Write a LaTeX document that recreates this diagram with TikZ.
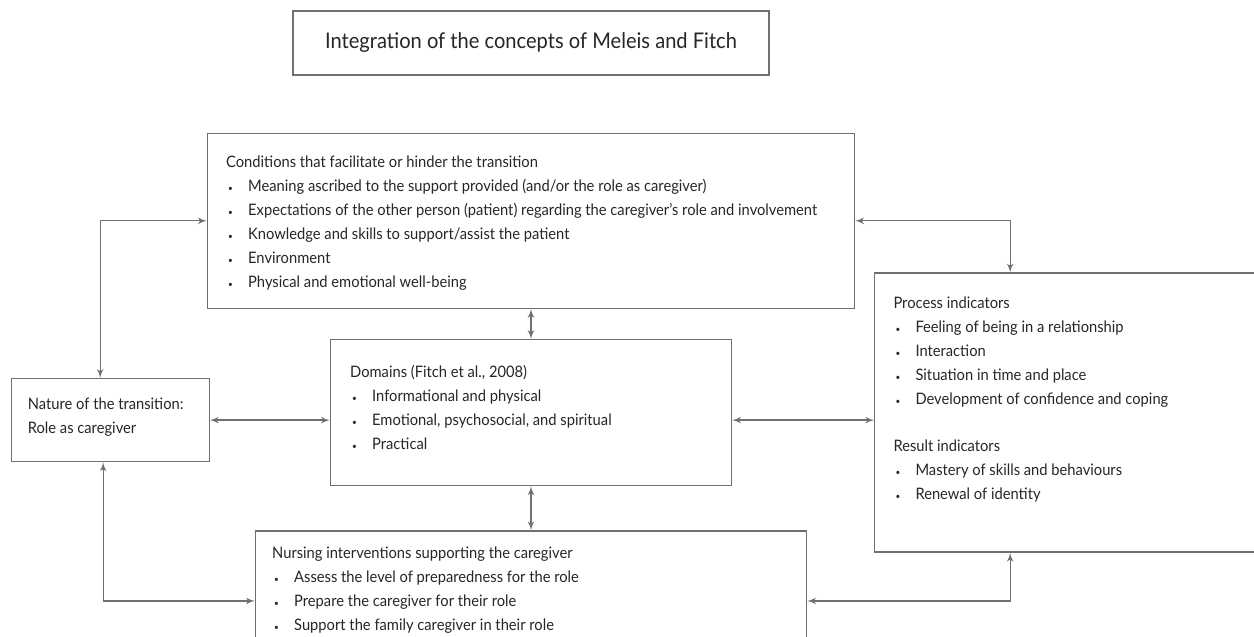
\documentclass[tikz,border=0pt]{standalone}
\usepackage{fontspec}
\setmainfont{Lato}[FakeStretch=0.93]
\usetikzlibrary{arrows, positioning}
\definecolor{linegray}{HTML}{707070}
\definecolor{textgray}{HTML}{262626}
\tikzstyle{block} = [rectangle, draw=linegray, line width=0.75pt, inner sep=0pt]
\tikzstyle{txt} = [align=left, inner sep=0pt, text=textgray, font=\fontsize{9}{13.6}\selectfont]
\tikzstyle{line} = [draw=linegray, line width=0.75pt, latex'-latex']
\newcommand{\itm}{\hspace*{0.04cm}\makebox[0.4cm][l]{\tiny\textbullet}}

\begin{document}
\begin{tikzpicture}[node distance=0.6cm and 2.4cm]
        \clip (0,0) rectangle (25.08,-12.72);
        % Boxes
        \node [block, minimum width=9.52cm, minimum height=1.28cm, text=textgray, font=\fontsize{12.3}{14}\selectfont] (title) at (10.62,-0.86) {Integration of the concepts of Meleis and Fitch};
        \node [block, minimum width=12.94cm, minimum height=3.5cm, below=1.14cm of title] (cond) {};
        \node [block, minimum width=8.02cm, minimum height=2.92cm, below=of cond] (dom) {};
        \node [block, minimum width=11.02cm, minimum height=2.8cm, below=0.88cm of dom] (nurs) {};
        \node [block, minimum width=3.96cm, minimum height=1.66cm, left=of dom, yshift=-0.15cm] (nat) {};
        \node [block, minimum width=7.8cm, minimum height=5.58cm, right=2.84cm of dom] (proc) {};

        % Texts
        \node [txt, below right=0.46cm and 0.38cm of cond.north west] (condtxt) {Conditions that facilitate or hinder the transition\\
                \itm Meaning ascribed to the support provided (and/or the role as caregiver)\\
                \itm Expectations of the other person (patient) regarding the caregiver’s role and involvement\\
                \itm Knowledge and skills to support/assist the patient\\
                \itm Environment\\
                \itm Physical and emotional well-being};
        \node [txt, below right=0.52cm and 0.4cm of dom.north west] (domtxt) {Domains (Fitch et al., 2008)\\
                \itm Informational and physical\\
                \itm Emotional, psychosocial, and spiritual\\
                \itm Practical};
        \node [txt, below right=0.4cm and 0.34cm of nat.north west] (nattxt) {Nature of the transition:\\Role as caregiver};
        \node [txt, below right=0.48cm and 0.38cm of proc.north west] (proctxt) {Process indicators\\
                \itm Feeling of being in a relationship\\
                \itm Interaction\\
                \itm Situation in time and place\\
                \itm Development of confidence and coping\\[13.6pt]
                Result indicators\\
                \itm Mastery of skills and behaviours\\
                \itm Renewal of identity};
        \node [txt, below right=0.32cm and 0.34cm of nurs.north west] (nurstxt) {Nursing interventions supporting the caregiver\\
                \itm Assess the level of preparedness for the role\\
                \itm Prepare the caregiver for their role\\
                \itm Support the family caregiver in their role};

        % Arrows
        \path [line] (cond.west) -| ([xshift=-0.2cm]nat.north);
        \path [line] (nurs.west) -| ([xshift=-0.14cm]nat.south);
        \path [line] (nat.east) -- (nat.east -| dom.west);
        \path [line] (cond.south) -- (dom.north);
        \path [line] (dom.south) -- (nurs.north);
        \path [line] (dom.east |- nat.east) -- (nat.east -| proc.west);
        \path [line] (cond.east) -| ([xshift=2.72cm]proc.north west);
        \path [line] (nurs.east) -| ([xshift=2.72cm]proc.south west);
\end{tikzpicture}
\end{document}
